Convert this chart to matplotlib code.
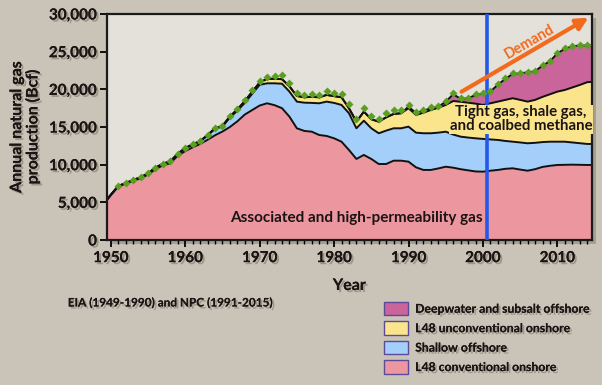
import numpy as np
import matplotlib
matplotlib.use("Agg")
import matplotlib.pyplot as plt
from matplotlib.patches import Patch, Rectangle
from matplotlib.ticker import MultipleLocator, FuncFormatter
import matplotlib.patheffects as pe

# years of the stacked record
years = np.arange(1949, 2016)

# upper edge of each stacked band (Bcf)
conv_top = [4700, 5950, 7100, 7480, 7860, 8180, 8680, 9400, 9900, 10180,
            11200, 11800, 12300, 12750, 13300, 13900, 14400, 15000, 15750, 16650,
            17250, 17850, 18150, 17900, 17500, 16380, 14830, 14480, 14380, 13940,
            13810, 13500, 13050, 11950, 10760, 11290, 10760, 10090, 10090, 10530,
            10530, 10400, 9650, 9300, 9300, 9500, 9730, 9600, 9400, 9250,
            9100, 9070, 9200, 9300, 9450, 9520, 9350, 9200, 9400, 9700,
            9850, 9960, 9980, 10000, 9980, 9960, 9960]
shallow_top = [4740, 5990, 7150, 7550, 7950, 8300, 8830, 9580, 10110, 10420,
               11420, 12170, 12650, 13090, 13860, 14750, 15050, 16250, 17150, 18200,
               19400, 20600, 20800, 20800, 20750, 19700, 18370, 18230, 18200, 18150,
               18370, 18200, 17930, 16830, 14830, 15840, 14830, 14170, 14520, 14830,
               14830, 15050, 14250, 14170, 14170, 14250, 14380, 14000, 13720, 13600,
               13500, 13420, 13350, 13280, 13150, 13050, 12950, 12840, 12900, 13000,
               13050, 13050, 13050, 12950, 12850, 12750, 12750]
unconv_top = [4750, 6000, 7165, 7565, 7965, 8315, 8845, 9595, 10135, 10445,
              11450, 12210, 12690, 13135, 13920, 14840, 15140, 16400, 17330, 18430,
              19680, 20900, 21400, 21400, 21350, 20400, 19120, 18950, 19000, 18950,
              19260, 19100, 18950, 17490, 15710, 17040, 16030, 15710, 16290, 16730,
              16830, 17490, 16600, 16900, 17260, 17550, 17930, 18450, 18350, 18230,
              18100, 17930, 18150, 18370, 18600, 18820, 18600, 18370, 18600, 19000,
              19350, 19700, 19920, 20250, 20580, 20950, 21020]
deep_top = [4750, 6000, 7165, 7565, 7965, 8315, 8845, 9595, 10135, 10445,
            11450, 12210, 12690, 13135, 13920, 14840, 15140, 16400, 17330, 18430,
            19680, 20900, 21400, 21400, 21350, 20400, 19120, 18950, 19000, 18950,
            19260, 19100, 18950, 17490, 15710, 17040, 16030, 15710, 16290, 16730,
            16830, 17700, 16850, 17150, 17500, 17700, 18350, 19350, 18750, 18800,
            19250, 19450, 19700, 20620, 21380, 22050, 22130, 22260, 22400, 23150,
            23720, 24780, 25380, 25720, 25820, 25820, 25850]

# total production (green diamonds)
total_years = np.arange(1951, 2015)
total = [7170, 7570, 7970, 8320, 8850, 9600, 10140, 10450, 11460, 12220,
         12700, 13150, 13940, 14870, 15180, 16470, 17440, 18590, 19900, 21100,
         21700, 21750, 21870, 20890, 19480, 19260, 19390, 19260, 19830, 19560,
         19350, 18020, 16110, 17570, 16470, 16110, 16830, 17260, 17260, 17930,
         17000, 17260, 17620, 17800, 18460, 19480, 18820, 18900, 19350, 19560,
         19790, 20720, 21470, 22140, 22220, 22350, 22480, 23240, 23810, 24880,
         25460, 25800, 25900, 25900]

labels = ["Deepwater and subsalt offshore", "L48 unconventional onshore",
          "Shallow offshore", "L48 conventional onshore"]
colors = ["#C9659A", "#FBE58C", "#A3CFFA", "#EC97A0"]

plt.rcParams['font.family'] = ['Lato', 'DejaVu Sans']
shadow = [pe.withSimplePatchShadow(offset=(1.5, -1.5), shadow_rgbFace='#7d776c', alpha=0.6), pe.Normal()]

fig = plt.figure(figsize=(6.02, 3.85), dpi=100)
fig.patch.set_facecolor('#CAC4B8')
l, b, w, h = 0.1772, 0.3766, 0.8062, 0.587
ax = fig.add_axes([l, b, w, h])
ax.set_facecolor('#E4E1DB')
# drop shadow of the plot box
fig.patches.append(Rectangle((l + 4 / 602, b - 4 / 385), w, h, transform=fig.transFigure,
                             facecolor='#8f897d', edgecolor='none', alpha=0.6, zorder=-1))

ax.fill_between(years, 0, conv_top, color=colors[3], lw=0)
ax.fill_between(years, conv_top, shallow_top, color=colors[2], lw=0)
ax.fill_between(years, shallow_top, unconv_top, color=colors[1], lw=0)
ax.fill_between(years, unconv_top, deep_top, color=colors[0], lw=0)
for top in [conv_top, shallow_top, unconv_top, deep_top]:
    ax.plot(years, top, color='#111111', lw=1.4)

ax.plot(total_years, total, ls='none', marker='D', ms=3.8, color='#5C9E22', mec='none', zorder=5)

# year 2000 marker
ax.axvline(2000.5, color='#2458E8', lw=2.6, zorder=4)

ax.text(1983.0, 2900, "Associated and high-permeability gas", ha='center', va='center',
        fontsize=11, fontweight='bold', color='#1c1414', zorder=6)
ax.text(2005.1, 16000, "Tight gas, shale gas,\nand coalbed methane", ha='center', va='center',
        fontsize=10.8, fontweight='bold', color='#1c1414', linespacing=1.0, zorder=6,
        bbox=dict(facecolor=colors[1], edgecolor='none', pad=0.5))

# demand arrow
ax.annotate("", xy=(2014.5, 29700), xytext=(1996.8, 19500),
            arrowprops=dict(arrowstyle='-|>,head_length=0.7,head_width=0.35', color='#F26B1D', lw=3),
            zorder=7)
ax.text(2006.3, 26300, "Demand", rotation=30, rotation_mode='anchor', ha='center', va='center',
        fontsize=10.5, fontweight='bold', color='#F26B1D', zorder=7)

ax.set_xlim(1949.45, 2014.65)
ax.set_ylim(0, 30000)
ax.xaxis.set_major_locator(MultipleLocator(10))
ax.xaxis.set_minor_locator(MultipleLocator(1))
ax.yaxis.set_major_locator(MultipleLocator(5000))
ax.yaxis.set_major_formatter(FuncFormatter(lambda v, p: f"{int(v):,}"))
ax.tick_params(axis='x', which='major', length=5, width=1.3, direction='out', pad=3)
ax.tick_params(axis='x', which='minor', length=3, width=1.0, direction='out')
ax.tick_params(axis='y', length=5, width=1.3, direction='out', pad=2)
for lab in ax.get_xticklabels() + ax.get_yticklabels():
    lab.set_fontsize(11)
    lab.set_fontweight('bold')
    lab.set_color('#1c1414')
    lab.set_path_effects(shadow)
for s in ax.spines.values():
    s.set_linewidth(1.6)
    s.set_color('#1a1a1a')

ax.set_xlabel("Year", fontsize=11.5, fontweight='bold', color='#1c1414', labelpad=10,
              path_effects=shadow)
ax.set_ylabel("Annual natural gas\nproduction (Bcf)", fontsize=11.5, fontweight='bold',
              color='#1c1414', labelpad=6, linespacing=1.1, path_effects=shadow)

fig.text(170 / 602, 1 - 303 / 385, "EIA (1949-1990) and NPC (1991-2015)", ha='center',
         va='center', fontsize=8.5, fontweight='bold', color='#1c1414', path_effects=shadow)

handles = [Patch(facecolor=c, edgecolor='#5b4a9a', lw=1.0) for c in colors]
leg = fig.legend(handles, labels, loc='upper left', bbox_to_anchor=(373 / 602, 1 - 291 / 385),
                 frameon=False, fontsize=8.8, handlelength=2.0, handleheight=1.3,
                 labelspacing=0.5, handletextpad=0.55)
for t in leg.get_texts():
    t.set_fontweight('bold')
    t.set_color('#1c1414')
    t.set_path_effects(shadow)

fig.savefig("out.png", dpi=100, facecolor=fig.get_facecolor())
